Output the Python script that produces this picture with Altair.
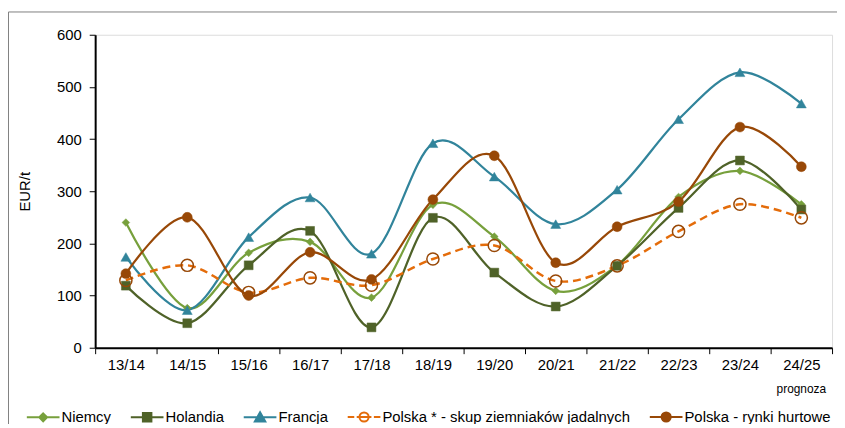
import altair as alt
import pandas as pd

seasons = ["13/14", "14/15", "15/16", "16/17", "17/18", "18/19", "19/20",
           "20/21", "21/22", "22/23", "23/24", "24/25"]
niemcy = [240, 76, 182, 203, 96, 274, 213, 109, 158, 289, 339, 275]
holandia = [119, 47, 158, 224, 39, 249, 144, 79, 157, 268, 359, 265]
francja = [174, 72, 212, 288, 180, 392, 328, 237, 303, 438, 528, 468]
polska_skup = [129, 158, 106, 134, 120, 170, 196, 128, 157, 223, 275, 249]
polska_hurt = [142, 250, 100, 183, 131, 284, 368, 163, 232, 280, 423, 347]

series_names = ["Niemcy", "Holandia", "Francja",
                "Polska * - skup ziemniaków jadalnych", "Polska - rynki hurtowe"]
series_values = [niemcy, holandia, francja, polska_skup, polska_hurt]
y_ticks = [0, 100, 200, 300, 400, 500, 600]
note_season = ["24/25"]
note_text = ["prognoza"]

line_colors = ["#77A03C", "#4F6228", "#31849B", "#E46C0A", "#984807"]
marker_fill = ["#77A03C", "#4F6228", "#31849B", "transparent", "#984807"]
marker_stroke = ["#77A03C", "#4F6228", "#31849B", "#984807", "#984807"]
marker_shape = ["diamond", "square", "triangle-up", "circle", "circle"]
marker_size = [60, 80, 100, 150, 100]
dashes = [None, None, None, [8, 5], None]

legend_paths = [
    "M-1,0H1M0,-0.24L0.24,0L0,0.24L-0.24,0Z",
    "M-1,0H1M-0.26,-0.26H0.26V0.26H-0.26Z",
    "M-1,0H1M0,-0.3L0.32,0.26H-0.32Z",
    "M-1,0H-0.6M-0.45,0H0.45M0.6,0H1M0.28,0A0.28,0.28,0,1,1,-0.28,0A0.28,0.28,0,1,1,0.28,0",
    "M-1,0H1M0.28,0A0.28,0.28,0,1,1,-0.28,0A0.28,0.28,0,1,1,0.28,0Z",
]
legend_fill = ["#77A03C", "#4F6228", "#31849B", "transparent", "#984807"]
legend_stroke = ["#77A03C", "#4F6228", "#31849B", "#E46C0A", "#984807"]

rows = []
for name, vals in zip(series_names, series_values):
    for s, v in zip(seasons, vals):
        rows.append({"season": s, "series": name, "value": v})
df = pd.DataFrame(rows)

FONT = "Liberation Sans"

x_enc = alt.X(
    "season:N",
    sort=seasons,
    bandPosition=0.5,
    scale=alt.Scale(type="band", domain=seasons, paddingInner=0, paddingOuter=0),
    axis=alt.Axis(title=None, labelAngle=0, tickBand="extent", domainColor="black",
                  domainWidth=2, tickColor="black", tickSize=6, tickWidth=1,
                  labelFontSize=15, labelPadding=4, labelColor="black",
                  labelFont=FONT),
)
y_enc = alt.Y(
    "value:Q",
    scale=alt.Scale(domain=[0, 600], nice=False),
    axis=alt.Axis(values=y_ticks, title="EUR/t", grid=False, domainColor="black",
                  domainWidth=2, tickColor="black", tickSize=6, tickWidth=1,
                  labelFontSize=15, labelPadding=8, labelColor="black",
                  titleFontSize=15, titleFontWeight="normal", titleColor="black",
                  titlePadding=24, labelFont=FONT, titleFont=FONT),
)

layers = []

frame = alt.Chart(pd.DataFrame({"a": [1]})).mark_rect(
    fillOpacity=0, stroke="#7f7f7f", strokeWidth=1
).encode(x=alt.value(-87.5), x2=alt.value(800), y=alt.value(-23), y2=alt.value(500))
layers.append(frame)

for i, name in enumerate(series_names):
    base = alt.Chart(df).transform_filter(alt.datum.series == name)
    lkw = dict(color=line_colors[i], strokeWidth=2.25, interpolate="cardinal", tension=0)
    if dashes[i]:
        lkw["strokeDash"] = dashes[i]
        lkw["strokeWidth"] = 2.5
    layers.append(base.mark_line(**lkw).encode(x=x_enc, y=y_enc))

for i, name in enumerate(series_names):
    base = alt.Chart(df).transform_filter(alt.datum.series == name)
    pkw = dict(shape=marker_shape[i], size=marker_size[i], opacity=1,
               fill=marker_fill[i], stroke=marker_stroke[i],
               strokeWidth=1.5 if i == 3 else 0.5, filled=(i != 3))
    layers.append(base.mark_point(**pkw).encode(x=x_enc, y=y_enc))

note = alt.Chart(pd.DataFrame({"season": note_season, "txt": note_text})).mark_text(
    fontSize=12, font=FONT, color="black", baseline="middle"
).encode(x=x_enc, y=alt.value(358), text="txt:N")
layers.append(note)

leg = alt.Legend(orient="none", legendX=-70, legendY=368, direction="horizontal",
                 columns=5, title=None, labelFontSize=15, labelFont=FONT,
                 labelColor="black", symbolSize=1089, symbolStrokeWidth=2,
                 labelOffset=1, columnPadding=15, padding=0, labelLimit=0)
legend_layer = alt.Chart(pd.DataFrame({"series": series_names})).transform_filter(
    "false"
).mark_point(opacity=1, strokeWidth=2).encode(
    shape=alt.Shape("series:N", scale=alt.Scale(domain=series_names, range=legend_paths), legend=leg),
    stroke=alt.Stroke("series:N", scale=alt.Scale(domain=series_names, range=legend_stroke), legend=leg),
    fill=alt.Fill("series:N", scale=alt.Scale(domain=series_names, range=legend_fill), legend=leg),
)
layers.append(legend_layer)

chart = alt.layer(*layers).properties(
    width=744, height=316,
    autosize=alt.AutoSizeParams(type="none"),
    padding={"left": 88, "top": 25, "right": 5, "bottom": 75},
).configure_view(stroke="#808080", strokeWidth=1.5).configure(font=FONT)

chart.save("out.html", embed_options={"renderer": "svg", "actions": False})
